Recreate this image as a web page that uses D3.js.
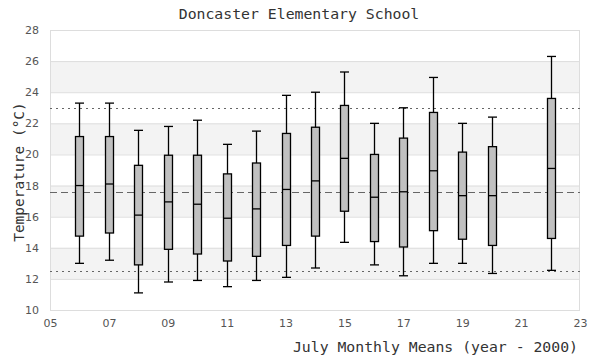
<!DOCTYPE html>
<html><head><meta charset="utf-8">
<script src="https://cdn.jsdelivr.net/npm/d3@7"></script>
<style>body{margin:0;background:#fff}svg{display:block}</style>
</head><body>
<svg id="c" width="600" height="360"></svg>
<script>
const years = [6,7,8,9,10,11,12,13,14,15,16,17,18,19,20,22];
const minV  = [13.0,13.2,11.1,11.8,11.9,11.5,11.9,12.1,12.7,14.35,12.9,12.2,13.0,13.0,12.35,12.55];
const q1V   = [14.75,14.95,12.9,13.9,13.6,13.15,13.45,14.15,14.75,16.35,14.4,14.05,15.1,14.55,14.15,14.6];
const medV  = [18.0,18.1,16.1,16.95,16.8,15.9,16.5,17.75,18.3,19.75,17.25,17.6,18.95,17.35,17.35,19.1];
const q3V   = [21.15,21.15,19.3,19.95,19.95,18.75,19.45,21.35,21.75,23.15,20.0,21.05,22.7,20.15,20.5,23.6];
const maxV  = [23.3,23.3,21.55,21.8,22.2,20.65,21.5,23.8,24.0,25.3,22.0,23.0,24.95,22.0,22.4,26.3];
const xTicks = [5,7,9,11,13,15,17,19,21,23];
const yTicks = [10,12,14,16,18,20,22,24,26,28];
const refLines = [{v:23,dash:"2,4"},{v:17.6,dash:"7,4"},{v:12.5,dash:"2,4"}];

const svg = d3.select("#c");
const L=50,R=580,T=30,B=310;
const x = d3.scaleLinear().domain([5,23]).range([L,R]);
const y = d3.scaleLinear().domain([10,28]).range([B,T]);

// bands
const bands = [12,16,20,24];
svg.append("g").selectAll("rect").data(bands).join("rect")
  .attr("x",L).attr("width",R-L)
  .attr("y",d=>y(d+2)).attr("height",d=>y(d)-y(d+2))
  .attr("fill","#f3f3f3");
// grid
svg.append("g").selectAll("line").data(yTicks).join("line")
  .attr("x1",L).attr("x2",R).attr("y1",d=>y(d)+0.5).attr("y2",d=>y(d)+0.5)
  .attr("stroke","#dddddd").attr("stroke-width",1);
svg.append("rect").attr("x",L+0.5).attr("y",T+0.5).attr("width",R-L-1).attr("height",B-T)
  .attr("fill","none").attr("stroke","#dddddd");

// ref lines
svg.append("g").selectAll("line").data(refLines).join("line")
  .attr("x1",L).attr("x2",R).attr("y1",d=>Math.round(y(d.v))+0.5).attr("y2",d=>Math.round(y(d.v))+0.5)
  .attr("stroke","#666").attr("stroke-width",1.2).attr("stroke-dasharray",d=>d.dash);

// axes
const yAxis = d3.axisLeft(y).tickValues(yTicks).tickSize(0).tickPadding(0).tickFormat(d3.format("d"));
const gy = svg.append("g").attr("transform",`translate(${L-11},0)`).call(yAxis);
gy.select(".domain").remove();
gy.selectAll("text").attr("font-family","DejaVu Sans").attr("font-size",11).attr("fill","#555");
const xAxis = d3.axisBottom(x).tickValues(xTicks).tickSize(0).tickPadding(0).tickFormat(d=>String(d).padStart(2,"0"));
const gx = svg.append("g").attr("transform",`translate(0,${B+9})`).call(xAxis);
gx.select(".domain").remove();
gx.selectAll("text").attr("font-family","DejaVu Sans").attr("font-size",11).attr("fill","#555");

// boxes
const data = years.map((yr,i)=>({yr,min:minV[i],q1:q1V[i],med:medV[i],q3:q3V[i],max:maxV[i]}));
const bw = 8;
const g = svg.append("g").selectAll("g").data(data).join("g");
const cx = d=>Math.round(x(d.yr))+0.5;
g.append("line").attr("x1",cx).attr("x2",cx).attr("y1",d=>y(d.max)).attr("y2",d=>y(d.min))
  .attr("stroke","#000").attr("stroke-width",1.3);
g.append("line").attr("x1",d=>cx(d)-bw/2-0.5).attr("x2",d=>cx(d)+bw/2+0.5).attr("y1",d=>y(d.max)).attr("y2",d=>y(d.max))
  .attr("stroke","#000").attr("stroke-width",1.3);
g.append("line").attr("x1",d=>cx(d)-bw/2-0.5).attr("x2",d=>cx(d)+bw/2+0.5).attr("y1",d=>y(d.min)).attr("y2",d=>y(d.min))
  .attr("stroke","#000").attr("stroke-width",1.3);
g.append("rect").attr("x",d=>cx(d)-bw/2).attr("width",bw)
  .attr("y",d=>y(d.q3)).attr("height",d=>y(d.q1)-y(d.q3))
  .attr("fill","#c0c0c0").attr("stroke","#000").attr("stroke-width",1.3);
g.append("line").attr("x1",d=>cx(d)-bw/2).attr("x2",d=>cx(d)+bw/2).attr("y1",d=>y(d.med)).attr("y2",d=>y(d.med))
  .attr("stroke","#000").attr("stroke-width",1.3);

// titles
svg.append("text").attr("x",299).attr("y",19).attr("text-anchor","middle")
  .attr("font-family","DejaVu Sans Mono").attr("font-size",14.8).attr("fill","#333")
  .text("Doncaster Elementary School");
svg.append("text").attr("x",578).attr("y",352).attr("text-anchor","end")
  .attr("font-family","DejaVu Sans Mono").attr("font-size",14.8).attr("fill","#333")
  .text("July Monthly Means (year - 2000)");
svg.append("text").attr("transform",`translate(24,${(T+B)/2+2}) rotate(-90)`).attr("text-anchor","middle")
  .attr("font-family","DejaVu Sans Mono").attr("font-size",14.5).attr("fill","#333")
  .text("Temperature (°C)");
</script>
</body></html>
